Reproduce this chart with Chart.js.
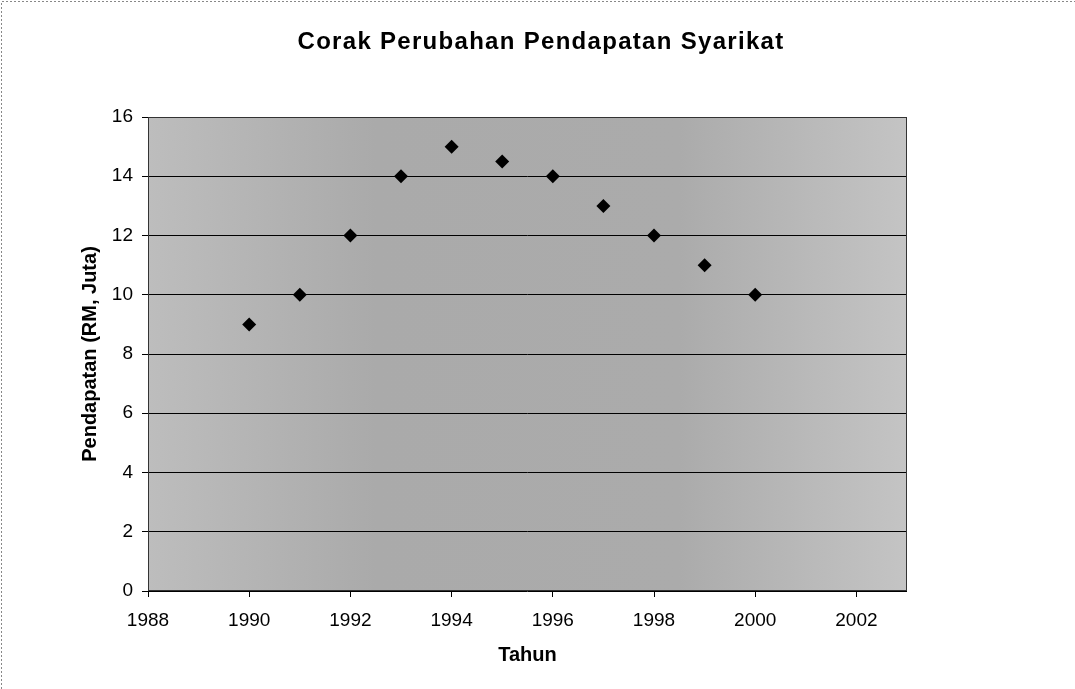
<!DOCTYPE html>
<html>
  <head>
    <meta charset="utf-8"/>
    <script src="https://cdn.jsdelivr.net/npm/chart.js@4.4.1/dist/chart.umd.min.js"></script>
    <style>
      body { margin: 0; background: #fff; }
      #chart-holder { width: 1075px; height: 689px; }
    </style>
  </head>
  <body>
    <div id="chart-holder">
      <canvas id="chart-area"></canvas>
    </div>

    <script>
      // Data
      var tahun = [1990, 1991, 1992, 1993, 1994, 1995, 1996, 1997, 1998, 1999, 2000];
      var pendapatan = [9, 10, 12, 14, 15, 14.5, 14, 13, 12, 11, 10];
      var xTicks = [1988, 1990, 1992, 1994, 1996, 1998, 2000, 2002];
      var yTicks = [0, 2, 4, 6, 8, 10, 12, 14, 16];
      var judul = 'Corak Perubahan Pendapatan Syarikat';

      var points = [];
      for (var i = 0; i < tahun.length; i++) {
        points.push({ x: tahun[i], y: pendapatan[i] });
      }

      var FONT = 'Liberation Sans, Arial, sans-serif';

      // gray plot background, plot border, page edge and the (wide) title
      var framePlugin = {
        id: 'frame',
        beforeDraw: function(chart) {
          var ctx = chart.ctx, a = chart.chartArea;
          ctx.save();
          var g = ctx.createLinearGradient(a.left, 0, a.right, 0);
          g.addColorStop(0, '#bdbdbd');
          g.addColorStop(0.3, '#aaaaaa');
          g.addColorStop(0.7, '#ababab');
          g.addColorStop(1, '#c4c4c4');
          ctx.fillStyle = g;
          ctx.fillRect(a.left, a.top, a.right - a.left, a.bottom - a.top);
          ctx.strokeStyle = '#888';
          ctx.setLineDash([2, 2]);
          ctx.lineWidth = 1;
          ctx.beginPath();
          ctx.moveTo(1.5, 689);
          ctx.lineTo(1.5, 1.5);
          ctx.lineTo(1075, 1.5);
          ctx.stroke();
          ctx.restore();
        },
        afterDraw: function(chart) {
          var ctx = chart.ctx, a = chart.chartArea;
          ctx.save();
          ctx.strokeStyle = '#333';
          ctx.lineWidth = 1;
          ctx.strokeRect(a.left + 0.5, a.top + 0.5, a.right - a.left - 1, a.bottom - a.top - 1);
          ctx.fillStyle = '#000';
          ctx.font = 'bold 24px ' + FONT;
          ctx.letterSpacing = '1.3px';
          ctx.textAlign = 'center';
          ctx.textBaseline = 'middle';
          ctx.fillText(judul, 541, 42);
          ctx.restore();
        }
      };

      var ctx = document.getElementById('chart-area').getContext('2d');
      var chart = new Chart(ctx, {
        type: 'scatter',
        data: {
          datasets: [{
            label: 'Pendapatan',
            data: points,
            pointStyle: 'rectRot',
            pointRadius: 7,
            pointHoverRadius: 7,
            backgroundColor: '#000',
            borderColor: '#000',
            borderWidth: 0
          }]
        },
        options: {
          responsive: true,
          maintainAspectRatio: false,
          animation: false,
          layout: { padding: { left: 74, right: 168, top: 117, bottom: 18 } },
          plugins: {
            legend: { display: false },
            tooltip: { enabled: false },
            title: { display: false }
          },
          scales: {
            x: {
              type: 'linear',
              min: 1988,
              max: 2003,
              afterBuildTicks: function(scale) {
                scale.ticks = xTicks.map(function(v) { return { value: v }; });
              },
              afterFit: function(scale) { scale.height = 80; },
              grid: { drawOnChartArea: false, drawTicks: true, tickLength: 6, color: '#000' },
              border: { display: false },
              ticks: {
                color: '#000',
                padding: 12,
                maxRotation: 0,
                font: { family: FONT, size: 19 },
                callback: function(v) { return String(v); }
              },
              title: {
                display: true,
                text: 'Tahun',
                color: '#000',
                font: { family: FONT, size: 20, weight: 'bold' }
              }
            },
            y: {
              min: 0,
              max: 16,
              afterBuildTicks: function(scale) {
                scale.ticks = yTicks.map(function(v) { return { value: v }; });
              },
              afterFit: function(scale) { scale.width = 74; },
              grid: { color: '#000', lineWidth: 1, drawTicks: true, tickLength: 6 },
              border: { display: false },
              ticks: {
                color: '#000',
                padding: 9,
                font: { family: FONT, size: 19 }
              },
              title: {
                display: true,
                text: 'Pendapatan (RM, Juta)',
                color: '#000',
                font: { family: FONT, size: 20, weight: 'bold' }
              }
            }
          }
        },
        plugins: [framePlugin]
      });
    </script>
  </body>
</html>
